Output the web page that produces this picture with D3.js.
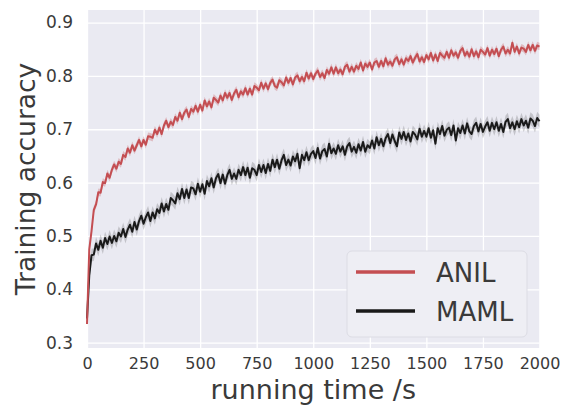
<!DOCTYPE html>
<html>
<head>
<meta charset="utf-8">
<script src="https://d3js.org/d3.v7.min.js"></script>
<style>
body { margin: 0; background: #fff; }
svg text { font-family: "DejaVu Sans", sans-serif; fill: #3a3a3a; }
</style>
</head>
<body>
<svg id="svg_acc" width="567" height="413"></svg>
<script>
// seconds between two logged points
var time_step = 10;

var anil_acc = [
	0.335, 0.475, 0.509, 0.549, 0.559, 0.582, 0.581, 0.601, 0.599, 0.617,
	0.609, 0.624, 0.634, 0.626, 0.639, 0.635, 0.652, 0.648, 0.664, 0.656,
	0.670, 0.660, 0.670, 0.680, 0.668, 0.680, 0.671, 0.687, 0.686, 0.684,
	0.699, 0.691, 0.703, 0.691, 0.707, 0.716, 0.704, 0.714, 0.708, 0.723,
	0.716, 0.731, 0.719, 0.731, 0.737, 0.723, 0.738, 0.733, 0.744, 0.733,
	0.746, 0.735, 0.754, 0.743, 0.752, 0.741, 0.759, 0.755, 0.750, 0.763,
	0.754, 0.768, 0.759, 0.768, 0.755, 0.767, 0.774, 0.760, 0.771, 0.765,
	0.777, 0.765, 0.776, 0.765, 0.781, 0.778, 0.773, 0.787, 0.776, 0.786,
	0.775, 0.787, 0.793, 0.781, 0.778, 0.792, 0.788, 0.782, 0.797, 0.787,
	0.796, 0.784, 0.797, 0.801, 0.790, 0.798, 0.790, 0.806, 0.795, 0.805,
	0.794, 0.804, 0.810, 0.798, 0.805, 0.796, 0.811, 0.804, 0.816, 0.804,
	0.816, 0.805, 0.812, 0.803, 0.817, 0.821, 0.808, 0.817, 0.808, 0.819,
	0.813, 0.825, 0.810, 0.823, 0.817, 0.825, 0.812, 0.825, 0.828, 0.817,
	0.828, 0.818, 0.833, 0.821, 0.827, 0.819, 0.831, 0.835, 0.822, 0.831,
	0.821, 0.833, 0.828, 0.837, 0.825, 0.834, 0.841, 0.827, 0.835, 0.826,
	0.839, 0.831, 0.843, 0.829, 0.840, 0.828, 0.843, 0.838, 0.834, 0.845,
	0.834, 0.848, 0.838, 0.844, 0.834, 0.847, 0.852, 0.838, 0.845, 0.836,
	0.850, 0.837, 0.846, 0.835, 0.849, 0.845, 0.840, 0.852, 0.838, 0.849,
	0.841, 0.851, 0.837, 0.849, 0.855, 0.842, 0.849, 0.842, 0.862, 0.845,
	0.855, 0.842, 0.853, 0.851, 0.845, 0.858, 0.848, 0.858, 0.847, 0.857,
	0.855
];

var maml_acc = [
	0.345, 0.426, 0.464, 0.465, 0.486, 0.474, 0.491, 0.478, 0.496, 0.485,
	0.499, 0.487, 0.500, 0.490, 0.506, 0.499, 0.513, 0.498, 0.512, 0.521,
	0.508, 0.526, 0.512, 0.528, 0.538, 0.523, 0.535, 0.544, 0.528, 0.544,
	0.533, 0.550, 0.543, 0.561, 0.546, 0.560, 0.549, 0.571, 0.567, 0.561,
	0.580, 0.569, 0.588, 0.571, 0.587, 0.571, 0.591, 0.589, 0.578, 0.598,
	0.583, 0.597, 0.579, 0.603, 0.593, 0.608, 0.591, 0.608, 0.616, 0.599,
	0.615, 0.598, 0.614, 0.624, 0.607, 0.617, 0.607, 0.624, 0.614, 0.629,
	0.614, 0.628, 0.609, 0.627, 0.624, 0.614, 0.633, 0.620, 0.633, 0.618,
	0.635, 0.622, 0.643, 0.629, 0.643, 0.626, 0.642, 0.652, 0.633, 0.643,
	0.632, 0.649, 0.640, 0.654, 0.627, 0.652, 0.642, 0.657, 0.642, 0.654,
	0.659, 0.646, 0.665, 0.645, 0.659, 0.663, 0.649, 0.673, 0.655, 0.664,
	0.654, 0.670, 0.658, 0.668, 0.652, 0.668, 0.674, 0.658, 0.667, 0.656,
	0.672, 0.660, 0.676, 0.658, 0.670, 0.665, 0.679, 0.664, 0.685, 0.670,
	0.682, 0.668, 0.683, 0.691, 0.674, 0.690, 0.678, 0.668, 0.694, 0.682,
	0.695, 0.680, 0.692, 0.677, 0.695, 0.690, 0.681, 0.701, 0.686, 0.697,
	0.686, 0.702, 0.684, 0.698, 0.673, 0.702, 0.691, 0.706, 0.688, 0.699,
	0.703, 0.689, 0.707, 0.679, 0.702, 0.693, 0.707, 0.692, 0.711, 0.696,
	0.691, 0.706, 0.712, 0.696, 0.710, 0.695, 0.705, 0.713, 0.697, 0.712,
	0.700, 0.713, 0.697, 0.710, 0.695, 0.714, 0.719, 0.702, 0.713, 0.700,
	0.715, 0.704, 0.719, 0.707, 0.716, 0.703, 0.720, 0.716, 0.706, 0.721,
	0.715
];

var x_ticks = [0, 250, 500, 750, 1000, 1250, 1500, 1750, 2000];
var y_ticks = [0.3, 0.4, 0.5, 0.6, 0.7, 0.8, 0.9];
var series_names = ["ANIL", "MAML"];

var svg = d3.select("svg#svg_acc");
var margin = {top: 10, right: 27.5, bottom: 65, left: 87};
var width = +svg.attr("width") - margin.left - margin.right;
var height = +svg.attr("height") - margin.top - margin.bottom;

var x = d3.scaleLinear().domain([0, 2000]).range([0, width]);
var y = d3.scaleLinear().domain([0.29, 0.9235]).range([height, 0]);

var g = svg.append("g")
	.attr("transform", "translate(" + margin.left + "," + margin.top + ")");

// seaborn darkgrid background
g.append("rect")
	.attr("width", width)
	.attr("height", height)
	.attr("fill", "#eaeaf2");

// grid lines
g.append("g")
	.call(d3.axisBottom(x).tickValues(x_ticks).tickSize(height).tickFormat(""))
	.call(function(a) { a.select(".domain").remove(); })
	.selectAll("line").attr("stroke", "#fff").attr("stroke-width", 1.3);

g.append("g")
	.call(d3.axisLeft(y).tickValues(y_ticks).tickSize(-width).tickFormat(""))
	.call(function(a) { a.select(".domain").remove(); })
	.selectAll("line").attr("stroke", "#fff").attr("stroke-width", 1.3);

// tick labels
var x_axis = g.append("g")
	.attr("transform", "translate(0," + height + ")")
	.call(d3.axisBottom(x).tickValues(x_ticks).tickSize(0).tickPadding(10).tickFormat(d3.format("d")));
x_axis.select(".domain").remove();
x_axis.selectAll("text").attr("font-size", 16).attr("fill", "#3a3a3a");

var y_axis = g.append("g")
	.call(d3.axisLeft(y).tickValues(y_ticks).tickSize(0).tickPadding(14).tickFormat(d3.format(".1f")));
y_axis.select(".domain").remove();
y_axis.selectAll("text").attr("font-size", 17).attr("fill", "#3a3a3a");

// turn each array into points
var to_points = function(arr) {
	return arr.map(function(v, i) { return {t: i * time_step, v: v}; });
};

var spread = {ANIL: 0.007, MAML: 0.012};
var colors = {ANIL: "#c44e52", MAML: "#1a1a1a"};
var bands = {ANIL: "rgba(196,78,82,0.3)", MAML: "rgba(60,60,60,0.22)"};
var data = {ANIL: to_points(anil_acc), MAML: to_points(maml_acc)};

var line = d3.line()
	.x(function(d) { return x(d.t); })
	.y(function(d) { return y(d.v); });

// draw MAML first, ANIL on top
["MAML", "ANIL"].forEach(function(name) {
	var band = d3.area()
		.x(function(d) { return x(d.t); })
		.y0(function(d) { return y(d.v - spread[name]); })
		.y1(function(d) { return y(d.v + spread[name]); });

	g.append("path")
		.datum(data[name])
		.attr("fill", bands[name])
		.attr("d", band);

	g.append("path")
		.datum(data[name])
		.attr("fill", "none")
		.attr("stroke", colors[name])
		.attr("stroke-width", 2)
		.attr("stroke-linejoin", "round")
		.attr("d", line);
});

// axis labels
svg.append("text")
	.attr("x", margin.left + width / 2)
	.attr("y", 399)
	.attr("text-anchor", "middle")
	.attr("font-size", 27)
	.text("running time /s");

svg.append("text")
	.attr("transform", "translate(35," + (margin.top + height / 2) + ") rotate(-90)")
	.attr("text-anchor", "middle")
	.attr("font-size", 26.5)
	.text("Training accuracy");

// legend
var legend = svg.append("g").attr("transform", "translate(347,251)");
legend.append("rect")
	.attr("width", 180)
	.attr("height", 86)
	.attr("rx", 5)
	.attr("fill", "#eeeef4")
	.attr("stroke", "#dcdce4")
	.attr("stroke-width", 1);

series_names.forEach(function(name, i) {
	var ly = 21 + i * 39;
	legend.append("line")
		.attr("x1", 9).attr("x2", 68)
		.attr("y1", ly).attr("y2", ly)
		.attr("stroke", colors[name])
		.attr("stroke-width", 3.5);
	legend.append("text")
		.attr("x", 89)
		.attr("y", ly + 10)
		.attr("font-size", 26)
		.text(name);
});
</script>
</body>
</html>
